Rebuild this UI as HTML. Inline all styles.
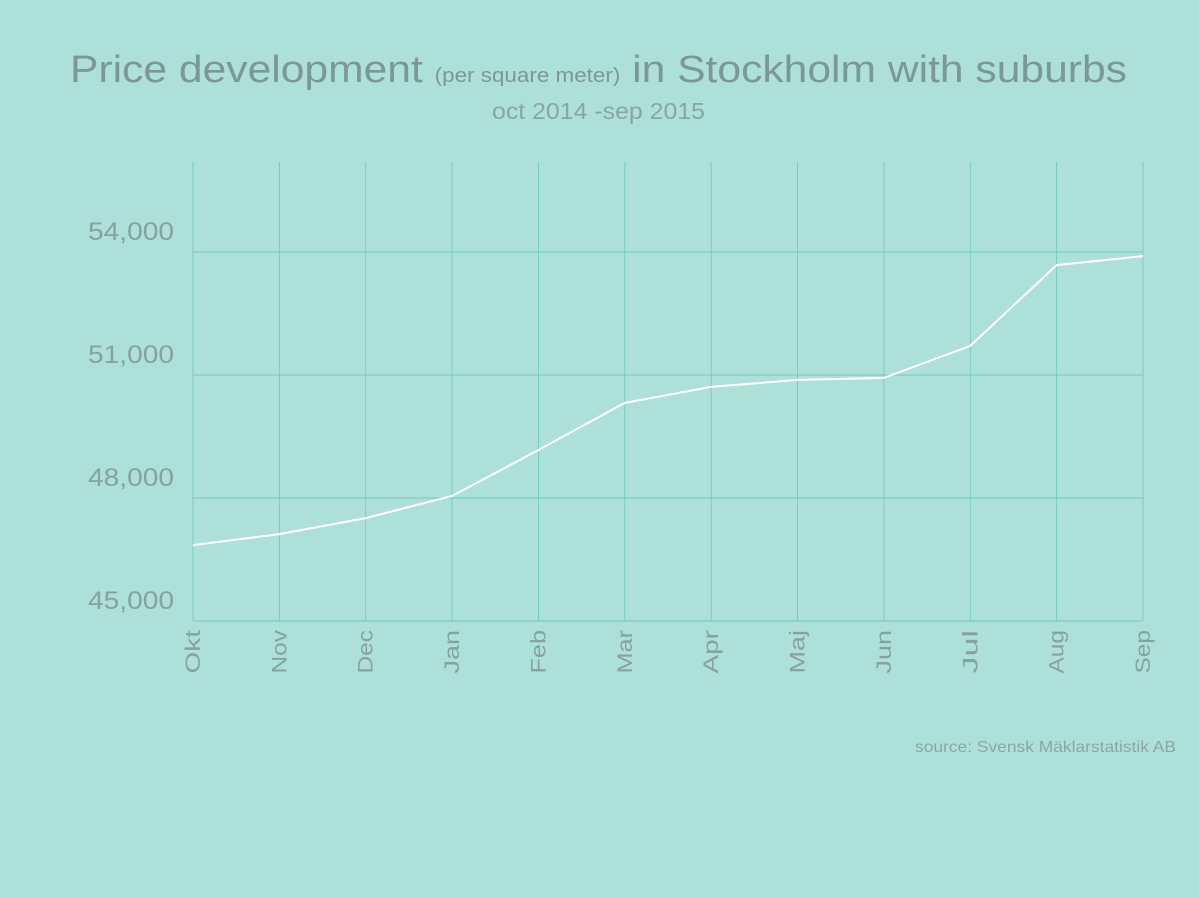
<!DOCTYPE html>
<html><head><meta charset="utf-8">
<style>
body{margin:0;background:#aee0da;}
svg{display:block;font-family:"Liberation Sans",sans-serif;}
</style></head>
<body>
<svg id="chart" width="1199" height="898" viewBox="0 0 1199 898">
<rect width="1199" height="898" fill="#aee0da"/>
<text x="70" y="82" textLength="1057" lengthAdjust="spacingAndGlyphs" font-size="38" fill="#7c9896">Price development <tspan font-size="20">(per square meter)</tspan> in Stockholm with suburbs</text>
<text x="492" y="119" textLength="213" lengthAdjust="spacingAndGlyphs" font-size="23" fill="#88a6a3">oct 2014 -sep 2015</text>
<text x="915" y="752" textLength="261" lengthAdjust="spacingAndGlyphs" font-size="16" fill="#8ca6a4">source: Svensk Mäklarstatistik AB</text>
<g id="grid"></g><g id="axes"></g><g id="series"></g>
</svg>
<script>
const months=["Okt","Nov","Dec","Jan","Feb","Mar","Apr","Maj","Jun","Jul","Aug","Sep"];
const prices=[46850,47120,47510,48050,49170,50320,50710,50880,50930,51710,53680,53900];
const yTicks=[45000,48000,51000,54000];
const yTickLabels=["45,000","48,000","51,000","54,000"];
const NS="http://www.w3.org/2000/svg";
const x0=193,x1=1143,yTop=162,yBot=621;
function xs(i){return x0+i*(x1-x0)/(months.length-1);}
function ys(v){return yBot-(v-45000)*123/3000;}
function mk(t,a,p){const e=document.createElementNS(NS,t);for(const k in a)e.setAttribute(k,a[k]);p.appendChild(e);return e;}
const grid=document.getElementById('grid'),axes=document.getElementById('axes'),ser=document.getElementById('series');
months.forEach((m,i)=>{
  const l=mk('line',{x1:xs(i),x2:xs(i),y1:yTop,y2:yBot,stroke:'#6cc9bf','stroke-width':0.8},grid);
  
  
  const x=xs(i)+7;
  const t=mk('text',{x:x,y:630,transform:`rotate(-90 ${x} 630)`,'text-anchor':'end','font-size':21,fill:'#86a2a0',textLength:m.length*14.5,lengthAdjust:'spacingAndGlyphs'},axes);
  t.textContent=m;
  
  
});
yTicks.forEach((v,i)=>{
  const l=mk('line',{x1:x0,x2:x1,y1:ys(v),y2:ys(v),stroke:'#5cc2b7','stroke-width':0.8},grid);
  
  
  const t=mk('text',{x:88,y:ys(v)-12,'font-size':25,fill:'#86a2a0',textLength:86,lengthAdjust:'spacingAndGlyphs'},axes);
  t.textContent=yTickLabels[i];
  
  
});
const pl=mk('polyline',{points:prices.map((p,i)=>xs(i)+','+ys(p)).join(' '),fill:'none',stroke:'#ffffff','stroke-width':2},ser);


</script>
</body></html>
